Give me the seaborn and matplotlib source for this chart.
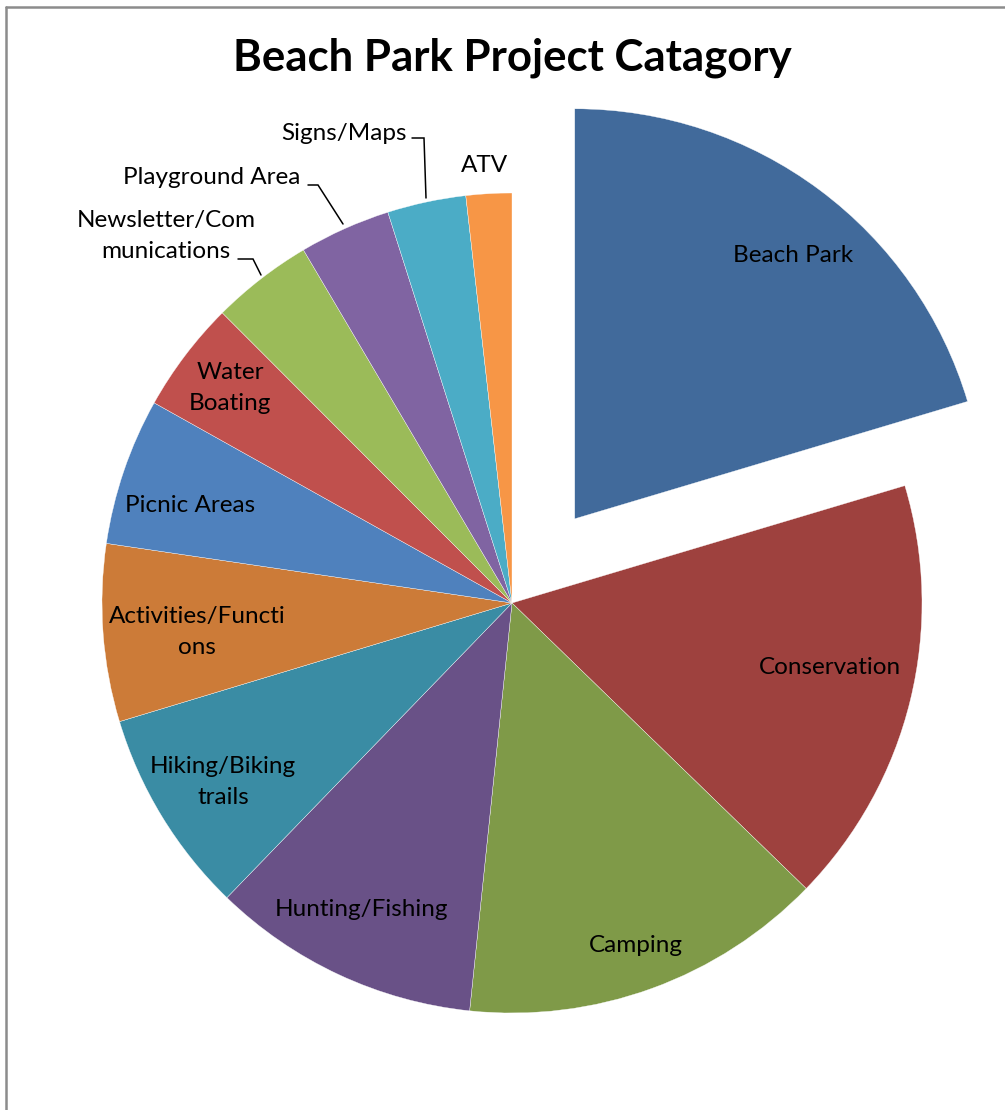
import matplotlib
matplotlib.use("Agg")
import matplotlib.pyplot as plt
import seaborn as sns

categories = [
    "Beach Park", "Conservation", "Camping", "Hunting/Fishing",
    "Hiking/Biking trails", "Activities/Functions", "Picnic Areas",
    "Water Boating", "Newsletter/Communications", "Playground Area",
    "Signs/Maps", "ATV",
]
shares = [20.4, 16.9, 14.4, 10.6, 8.1, 7.0, 5.8, 4.4, 4.0, 3.6, 3.1, 1.8]

# label text as wrapped in the chart
label_text = [
    "Beach Park", "Conservation", "Camping", "Hunting/Fishing",
    "Hiking/Biking\ntrails", "Activities/Functi\nons", "Picnic Areas",
    "Water\nBoating", "Newsletter/Com\nmunications", "Playground Area",
    "Signs/Maps", "ATV",
]

COLORS = [
    "#416A9B", "#9E413E", "#7F9A48", "#695187", "#3A8CA4", "#CC7B38",
    "#4F81BD", "#C0504D", "#9BBB59", "#8064A2", "#4BACC6", "#F79646",
]

W, H = 1005, 1110
sns.set_theme(style="white")
plt.rcParams["font.family"] = ["Lato", "DejaVu Sans"]

fig = plt.figure(figsize=(W / 100, H / 100), dpi=100)
ax = fig.add_axes([0, 0, 1, 1])

# pixel-ish coordinates, y measured from the bottom
cx, cy, r = 512, H - 603, 410
explode = [105] + [0] * (len(shares) - 1)

ax.pie(
    shares, colors=COLORS, startangle=90, counterclock=False,
    explode=explode, center=(cx, cy), radius=r,
    wedgeprops=dict(edgecolor="white", linewidth=0.25),
)
ax.set_xlim(0, W)
ax.set_ylim(0, H)
ax.set_aspect("equal")
ax.axis("off")

# label placement (pixel positions from top-left)
label_pos = {
    "Beach Park": (793, 256),
    "Conservation": (830, 667),
    "Camping": (636, 945),
    "Hunting/Fishing": (361, 910),
    "Hiking/Biking trails": (223, 782),
    "Activities/Functions": (197, 632),
    "Picnic Areas": (190, 506),
    "Water Boating": (230, 388),
    "Newsletter/Communications": (166, 236),
    "Playground Area": (212, 178),
    "Signs/Maps": (344, 133),
    "ATV": (484, 166),
}
for cat, txt in zip(categories, label_text):
    px, py = label_pos[cat]
    ax.text(px, H - py, txt, ha="center", va="center", fontsize=17.5,
            linespacing=1.55, color="black")

# leader lines for the small outside labels
leaders = [
    [(238, 259), (253, 259), (261, 275)],
    [(308, 185), (318, 185), (343, 224)],
    [(412, 138), (424, 138), (426, 198)],
]
for pts in leaders:
    xs = [p[0] for p in pts]
    ys = [H - p[1] for p in pts]
    ax.plot(xs, ys, color="black", linewidth=1.1, solid_joinstyle="miter")

ax.text(512, H - 58, "Beach Park Project Catagory", ha="center", va="center",
        fontsize=31.5, fontweight="bold", color="black")

# chart frame (top and left edges visible)
ax.plot([6, W + 5], [H - 7, H - 7], color="#8c8c8c", linewidth=1.8, clip_on=False)
ax.plot([6, 6], [H - 7, -5], color="#8c8c8c", linewidth=1.8, clip_on=False)

fig.savefig("out.png", dpi=100)
